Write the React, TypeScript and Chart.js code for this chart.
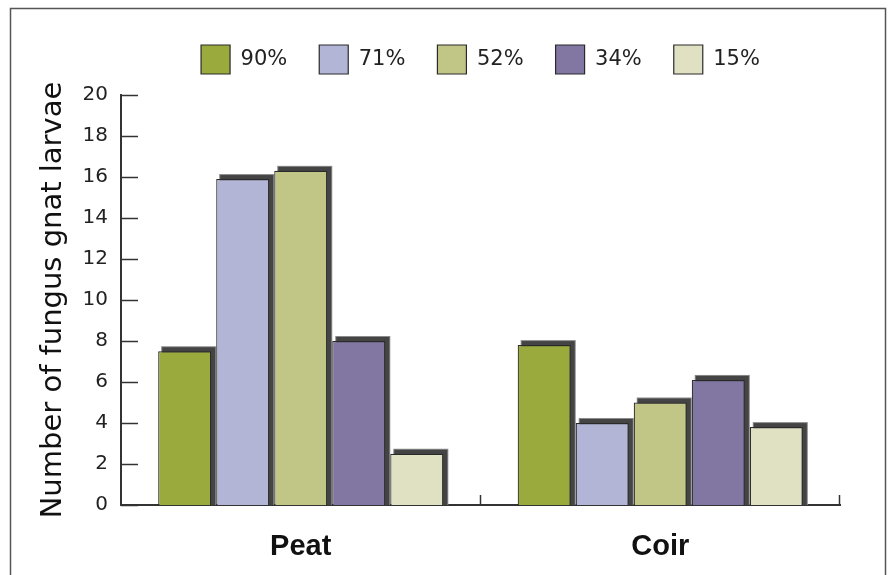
import React, { useEffect, useRef } from "react";
import { Chart, registerables } from "chart.js";

Chart.register(...registerables);

const categories = ["Peat", "Coir"];
const seriesLabels = ["90%", "71%", "52%", "34%", "15%"];
const values90 = [7.5, 7.8];
const values71 = [15.9, 4.0];
const values52 = [16.3, 5.0];
const values34 = [8.0, 6.1];
const values15 = [2.5, 3.8];
const seriesColors = ["#9BAA3C", "#B2B5D6", "#C1C586", "#8277A3", "#E0E1C3"];
const yTicks = [0, 2, 4, 6, 8, 10, 12, 14, 16, 18, 20];

const shadowPlugin = {
  id: "barShadow",
  beforeDatasetsDraw(chart: any) {
    const ctx = chart.ctx;
    ctx.save();
    chart.data.datasets.forEach((_d: any, i: number) => {
      const meta = chart.getDatasetMeta(i);
      meta.data.forEach((bar: any) => {
        const p = bar.getProps(["x", "y", "base", "width"], true);
        const left = p.x - p.width / 2;
        ctx.fillStyle = "#8a8a8a";
        ctx.fillRect(left + 3, p.y - 5, p.width + 2, p.base - p.y + 5);
        ctx.fillStyle = "#444444";
        ctx.fillRect(left + 4, p.y - 4, p.width, p.base - p.y + 4);
      });
    });
    ctx.restore();
  },
};

const axisTicksPlugin = {
  id: "inwardTicks",
  beforeDraw(chart: any) {
    const ctx = chart.ctx;
    ctx.save();
    ctx.strokeStyle = "#555";
    ctx.lineWidth = 1.5;
    ctx.strokeRect(10.5, 8.5, 875, 620);
    ctx.restore();
  },
  afterDatasetsDraw(chart: any) {
    const ctx = chart.ctx;
    const y = chart.scales.y;
    const x = chart.scales.x;
    const area = chart.chartArea;
    ctx.save();
    ctx.strokeStyle = "#333";
    ctx.lineWidth = 1.5;
    y.ticks.forEach((t: any) => {
      const py = Math.round(y.getPixelForValue(t.value)) + 0.5;
      ctx.beginPath();
      ctx.moveTo(area.left, py);
      ctx.lineTo(area.left + 17, py);
      ctx.stroke();
    });
    const half = (x.getPixelForValue(1) - x.getPixelForValue(0)) / 2;
    categories.forEach((_c, i) => {
      const px = Math.round(x.getPixelForValue(i) + half) - 0.5;
      ctx.beginPath();
      ctx.moveTo(px, area.bottom);
      ctx.lineTo(px, area.bottom - 10);
      ctx.stroke();
    });
    ctx.restore();
  },
};

export default function App() {
  const ref = useRef<HTMLCanvasElement>(null);
  useEffect(() => {
    const seriesValues = [values90, values71, values52, values34, values15];
    const chart = new Chart(ref.current as HTMLCanvasElement, {
      type: "bar",
      data: {
        labels: categories,
        datasets: seriesLabels.map((label, i) => ({
          label,
          data: seriesValues[i],
          backgroundColor: seriesColors[i],
          borderColor: "#2a2a2a",
          borderWidth: 1.2,
          categoryPercentage: 0.807,
          barPercentage: 0.914,
          xAxisID: "x",
          yAxisID: "y",
        })),
      },
      options: {
        responsive: false,
        animation: false,
        layout: { padding: { top: 13, right: 56, bottom: 0, left: 0 } },
        plugins: {
          tooltip: { enabled: false },
          legend: {
            position: "top",
            fullSize: false,
            labels: {
              boxWidth: 29,
              boxHeight: 29,
              padding: 32,
              color: "#222",
              font: { family: "DejaVu Sans", size: 21 },
            },
          },
        },
        scales: {
          x: {
            grid: { display: false, drawTicks: false },
            border: { display: true, color: "#333", width: 2 },
            ticks: {
              padding: 25,
              color: "#111",
              font: { family: "Liberation Sans", size: 29, weight: "bold" },
            },
            afterFit(scale: any) {
              scale.height = 70;
            },
          },
          xTopGap: {
            type: "category",
            position: "top",
            grid: { display: false, drawTicks: false },
            border: { display: false },
            ticks: { display: false },
            afterFit(scale: any) {
              scale.height = 11;
            },
          },
          y: {
            min: 0,
            max: 20,
            afterBuildTicks(scale: any) {
              scale.ticks = yTicks.map((v) => ({ value: v }));
            },
            grid: { display: false, drawTicks: false },
            border: { display: true, color: "#333", width: 2 },
            ticks: {
              padding: 13,
              color: "#222",
              font: { family: "DejaVu Sans", size: 20 },
            },
            title: {
              display: true,
              text: "Number of fungus gnat larvae",
              color: "#111",
              font: { family: "DejaVu Sans", size: 29 },
              padding: { top: 36, bottom: 0 },
            },
            afterFit(scale: any) {
              scale.width = 121;
            },
          },
        },
      },
      plugins: [shadowPlugin, axisTicksPlugin],
    });
    return () => chart.destroy();
  }, []);
  return (
    <div style={{ position: "absolute", left: 0, top: 0, width: 896, height: 575, background: "#fff" }}>
      <canvas ref={ref} width={896} height={575} style={{ width: 896, height: 575, display: "block" }} />
    </div>
  );
}
